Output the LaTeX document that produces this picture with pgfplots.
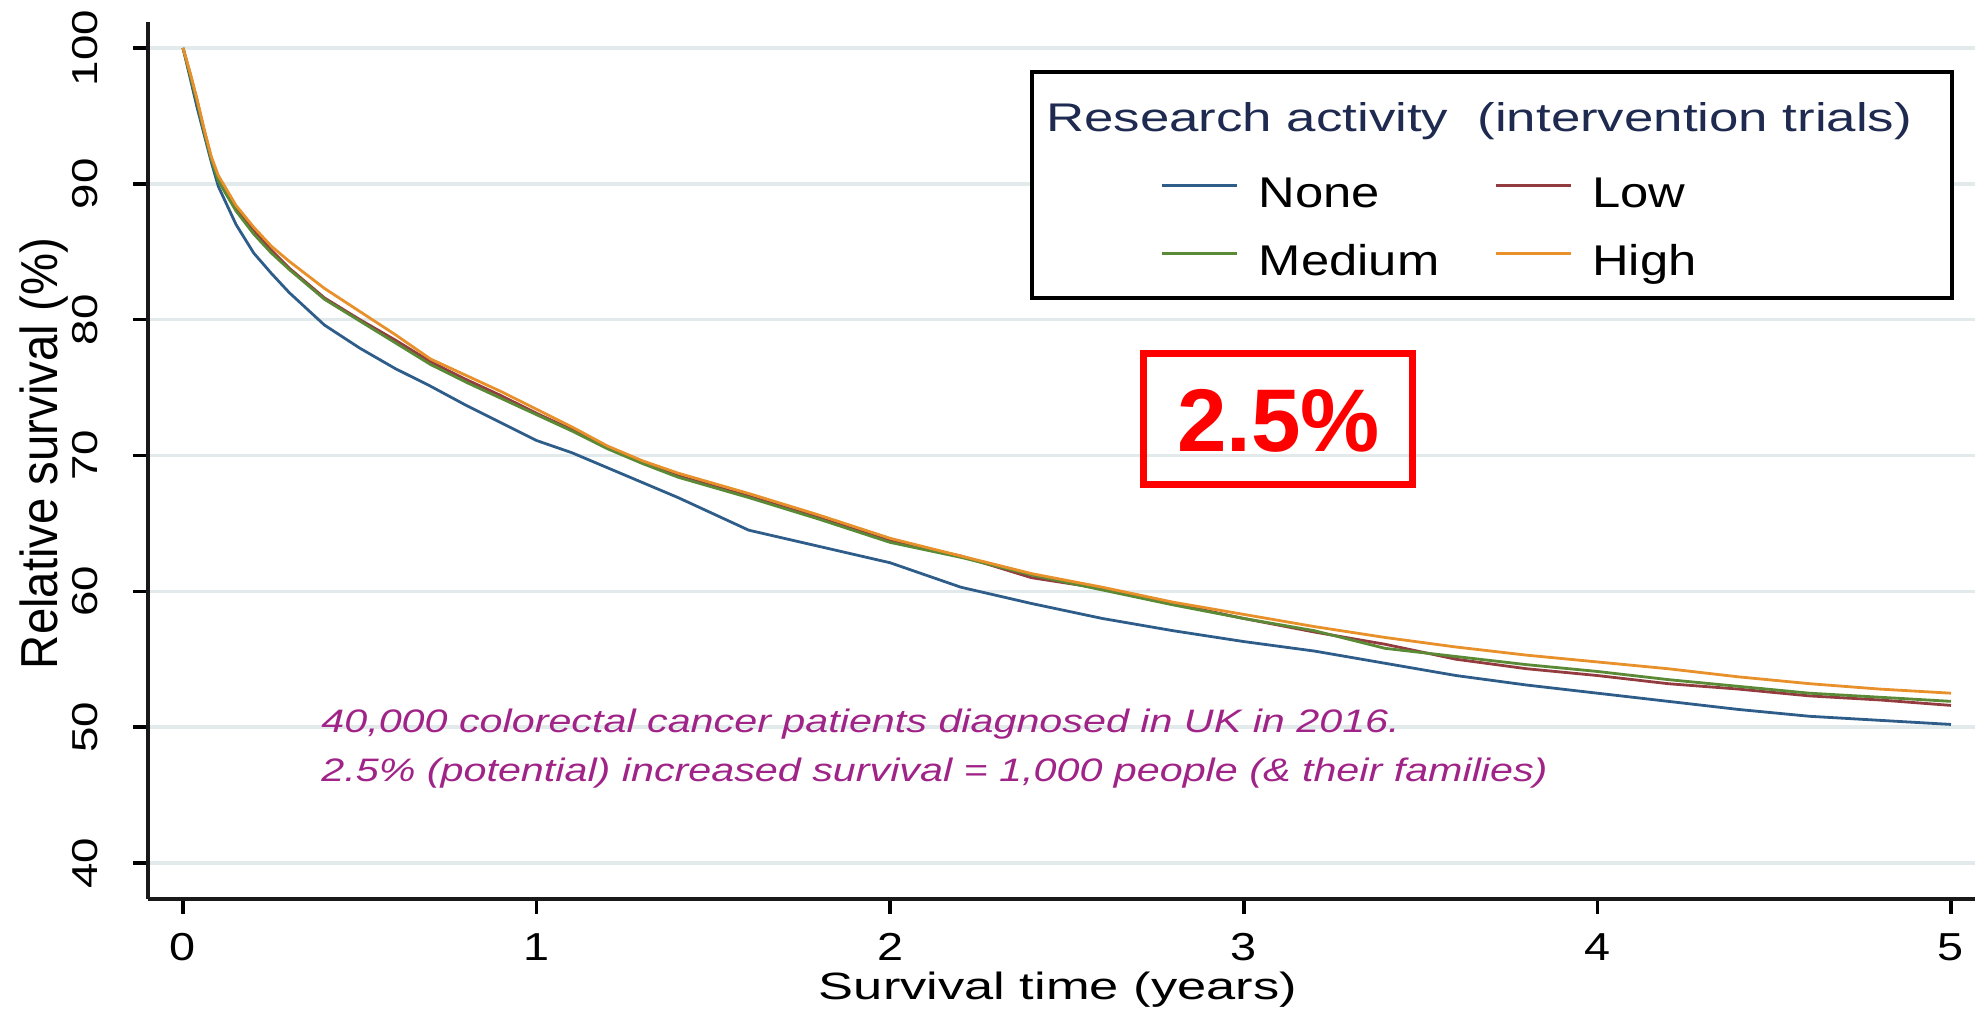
\documentclass[border=0pt]{standalone}
\usepackage{pgfplots}
\usepackage{pgfplotstable}
\pgfplotsset{compat=1.18}
\usepackage{fontspec}
\setmainfont{Liberation Sans}
\newfontfamily\fXtick[FakeStretch=1.2]{Liberation Sans}
\newfontfamily\fYtick[FakeStretch=1.27]{Liberation Sans}
\newfontfamily\fYlab[FakeStretch=0.91]{Liberation Sans}
\newfontfamily\fXlab[FakeStretch=1.38]{Liberation Sans}
\newfontfamily\fLeg[FakeStretch=1.18]{Liberation Sans}
\newfontfamily\fLegT[FakeStretch=1.32]{Liberation Sans}
\newfontfamily\fAnn[FakeStretch=1.27]{Liberation Sans}
\definecolor{cNone}{RGB}{47,93,138}
\definecolor{cLow}{RGB}{148,59,63}
\definecolor{cMed}{RGB}{90,138,54}
\definecolor{cHigh}{RGB}{232,144,42}
\definecolor{gridc}{RGB}{226,234,236}
\definecolor{legtitle}{RGB}{30,42,80}
\definecolor{annc}{RGB}{160,35,135}

\pgfplotstableread{
t none low medium high
0 100 100 100 100
0.02 97.8 98.1 98.0 98.2
0.04 95.6 96.1 96.0 96.2
0.06 93.6 93.9 93.8 94.0
0.08 91.6 91.9 91.8 92.0
0.10 89.8 90.4 90.2 90.6
0.15 87.0 88.2 88.0 88.4
0.20 84.9 86.6 86.3 86.8
0.25 83.4 85.1 84.9 85.4
0.30 82.0 83.8 83.7 84.3
0.40 79.6 81.6 81.5 82.3
0.50 77.9 80.0 79.9 80.6
0.60 76.4 78.5 78.3 78.9
0.70 75.1 76.9 76.7 77.1
0.80 73.7 75.6 75.4 75.9
0.90 72.4 74.4 74.2 74.7
1.00 71.1 73.1 73.0 73.4
1.10 70.2 71.9 71.8 72.1
1.20 69.1 70.6 70.5 70.7
1.30 68.0 69.5 69.4 69.6
1.40 66.9 68.5 68.4 68.7
1.60 64.5 67.0 66.9 67.2
1.80 63.3 65.4 65.3 65.6
2.00 62.1 63.7 63.6 63.9
2.20 60.3 62.6 62.5 62.6
2.40 59.1 61.0 61.2 61.3
2.60 58.0 60.2 60.1 60.3
2.80 57.1 59.1 59.0 59.2
3.00 56.3 58.0 58.0 58.3
3.20 55.6 57.0 57.1 57.4
3.40 54.7 56.1 55.8 56.6
3.60 53.8 55.0 55.2 55.9
3.80 53.1 54.3 54.6 55.3
4.00 52.5 53.8 54.1 54.8
4.20 51.9 53.2 53.5 54.3
4.40 51.3 52.8 53.0 53.7
4.60 50.8 52.3 52.5 53.2
4.80 50.5 52.0 52.2 52.8
5.00 50.2 51.6 51.9 52.5
}\survdata

\begin{document}
\begin{tikzpicture}
\useasboundingbox (0,0) rectangle (987.5pt,505.5pt);
\begin{axis}[
  at={(74pt,56pt)}, anchor=south west,
  scale only axis, width=913.5pt, height=438.5pt,
  xmin=-0.099, xmax=5.068, ymin=37.35, ymax=101.91,
  axis x line*=bottom, axis y line*=left,
  axis line style={line width=2.2pt, color=black!90, -},
  xtick={0,1,2,3,4,5}, ytick={40,50,60,70,80,90,100},
  tick align=outside, major tick length=7.5pt,
  major tick style={line width=1.8pt, black},
  ymajorgrids, major grid style={line width=1.8pt, color=gridc},
  /pgf/number format/assume math mode=true,
  xticklabel style={font=\fXtick\fontsize{19.5pt}{22pt}\selectfont, anchor=base, inner sep=0pt},
  xticklabel shift=23pt,
  yticklabel style={font=\fYtick\fontsize{18pt}{22pt}\selectfont, rotate=90, anchor=base, inner sep=0pt},
  yticklabel shift=17.5pt,
  xlabel={Survival time (years)},
  xlabel style={at={(axis description cs:0.498,-0.1141)}, anchor=base, inner sep=0pt, font=\fXlab\fontsize{19pt}{22pt}\selectfont},
  ylabel={Relative survival (\%)},
  ylabel style={at={(axis description cs:-0.0493,0.508)}, anchor=base, inner sep=0pt, font=\fYlab\fontsize{26pt}{30pt}\selectfont},
  legend columns=2,
  legend cell align=left,
  legend image code/.code={\draw[#1, line width=1.4pt] (0pt,5.6pt) -- (37.5pt,5.6pt);},
  legend style={at={(0.5545,0.8255)}, anchor=north west, draw=none, fill=none,
    inner sep=0pt, outer sep=0pt, font=\fLeg\fontsize{21.5pt}{24pt}\selectfont,
    column sep=10pt, row sep=12.5pt,
    nodes={inner sep=0pt, text height=16.1pt, text depth=5.4pt},
    /tikz/every even column/.append style={column sep=27.5pt}},
]
\draw[line width=2pt, fill=white] (rel axis cs:0.4839,0.9430) rectangle (rel axis cs:0.9874,0.6853);
\node[anchor=base west, inner sep=0pt, text=legtitle, font=\fLegT\fontsize{20pt}{23pt}\selectfont] at (rel axis cs:0.4915,0.8746) {Research activity\ \ (intervention trials)};
\addplot[cNone, line width=1.4pt] table[x=t, y=none] {\survdata};
\addlegendentry{None}
\addplot[cLow, line width=1.4pt] table[x=t, y=low] {\survdata};
\addlegendentry{Low}
\addplot[cMed, line width=1.4pt] table[x=t, y=medium] {\survdata};
\addlegendentry{Medium}
\addplot[cHigh, line width=1.4pt] table[x=t, y=high] {\survdata};
\addlegendentry{High}
\draw[red, line width=3.5pt] (rel axis cs:0.5449,0.6220) rectangle (rel axis cs:0.6921,0.4726);
\node[text=red, anchor=base, inner sep=0pt, font=\bfseries\fontsize{44.5pt}{50pt}\selectfont] at (rel axis cs:0.6188,0.5097) {2.5\%};
\node[anchor=base west, inner sep=0pt, text=annc, font=\fAnn\itshape\fontsize{16.25pt}{20pt}\selectfont] at (rel axis cs:0.0947,0.1893) {40,000 colorectal cancer patients diagnosed in UK in 2016.};
\node[anchor=base west, inner sep=0pt, text=annc, font=\fAnn\itshape\fontsize{16.25pt}{20pt}\selectfont] at (rel axis cs:0.0947,0.1334) {2.5\% (potential) increased survival = 1,000 people (\& their families)};
\end{axis}
\end{tikzpicture}
\end{document}
